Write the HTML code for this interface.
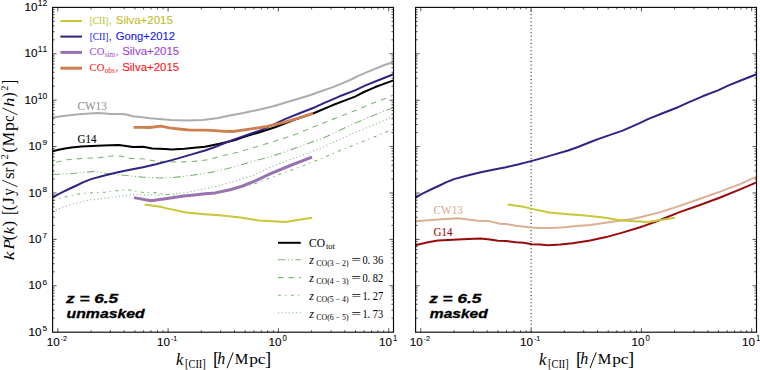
<!DOCTYPE html>
<html><head><meta charset="utf-8"><style>html,body{margin:0;padding:0;background:#fff;}body{width:760px;height:370px;overflow:hidden;}svg{display:block;}text{font-kerning:none;}</style></head><body>
<svg width="760" height="370" viewBox="0 0 760 370">
<rect width="760" height="370" fill="#ffffff"/>
<defs><clipPath id="cl"><rect x="52.6" y="7.4" width="340.9" height="324.8"/></clipPath><clipPath id="cr"><rect x="415.6" y="7.4" width="340.9" height="324.8"/></clipPath></defs>
<g clip-path="url(#cl)">
<polyline points="52.5,211.5 63.2,207.0 76.3,203.0 89.5,200.0 102.6,198.4 115.8,196.8 129.0,195.1 135.5,194.2 142.0,194.7 150.0,195.1 165.0,194.7 184.0,192.9 190.0,191.8 205.8,188.7 221.6,185.0 237.4,180.3 253.2,175.5 270.0,167.5 290.3,159.5 310.5,152.0 324.0,146.6 340.0,139.2 354.9,132.5 369.7,126.6 393.3,116.8" fill="none" stroke="#7ab672" stroke-width="1.1" stroke-dasharray="1 2.6" stroke-linejoin="round"/>
<polyline points="52.5,201.0 67.1,196.4 80.3,193.8 93.4,192.8 105.3,192.1 118.4,190.5 125.0,189.9 130.3,190.1 136.8,191.2 143.4,192.5 155.5,192.6 167.1,194.5 179.7,195.5 193.4,195.0 215.0,193.5 230.0,190.5 242.6,187.0 256.8,183.0 267.9,178.7 283.5,173.0 303.8,165.5 324.0,157.4 343.3,149.3 365.0,140.6 384.6,132.8 393.3,129.2" fill="none" stroke="#7ab672" stroke-width="1.1" stroke-dasharray="3 4.2 1.2 4.4" stroke-linejoin="round"/>
<polyline points="52.5,174.5 69.7,173.8 82.9,172.5 94.7,171.4 105.3,173.2 115.8,174.5 128.9,175.8 142.1,177.1 159.5,178.0 174.6,177.4 190.0,175.5 211.0,172.4 226.8,168.7 240.5,165.0 256.8,160.3 270.0,156.8 290.3,150.0 310.5,142.6 324.0,137.8 340.0,130.2 354.2,123.4 368.4,117.6 385.5,110.5 393.5,107.8" fill="none" stroke="#7ab672" stroke-width="1.1" stroke-dasharray="7.5 2.5 1 2.7 1 2.6" stroke-linejoin="round"/>
<polyline points="52.5,163.0 55.3,162.4 67.1,159.7 82.9,158.4 100.0,157.6 113.2,155.8 121.0,156.1 128.9,158.4 142.2,158.8 155.1,161.0 176.8,162.0 187.6,161.8 198.4,161.0 210.3,159.3 218.9,156.5 237.8,152.3 256.8,146.7 270.0,142.6 283.5,138.5 297.0,133.8 313.2,127.0 342.8,115.4 353.3,111.3 363.7,107.0 373.1,103.0 383.6,99.2 393.5,95.0" fill="none" stroke="#7ab672" stroke-width="1.1" stroke-dasharray="5.5 5" stroke-linejoin="round" stroke-dashoffset="6.7"/>
<polyline points="52.5,117.6 63.2,116.1 76.3,114.5 89.5,113.4 97.4,113.0 105.3,113.6 110.0,114.1 119.6,113.9 125.0,114.3 133.1,116.2 140.0,117.0 150.0,118.2 171.0,119.9 186.8,120.6 202.6,120.1 218.4,118.0 228.2,115.7 240.8,113.4 256.6,110.2 272.4,106.5 288.2,101.8 300.0,98.2 310.5,95.0 321.0,91.3 331.6,87.6 342.1,83.4 350.0,80.0 358.2,75.8 371.3,70.3 384.5,65.0 393.5,62.0" fill="none" stroke="#acacac" stroke-width="2.0" stroke-linejoin="round"/>
<polyline points="144.7,204.5 161.8,207.1 168.0,208.6 186.0,212.6 205.0,214.3 219.5,215.3 240.5,217.5 258.9,220.5 285.3,222.0 311.9,217.8" fill="none" stroke="#c8c737" stroke-width="2.0" stroke-linejoin="round"/>
<polyline points="133.9,197.6 150.8,200.8 167.1,198.5 183.9,196.1 192.0,195.2 205.0,193.8 215.3,192.9 230.0,189.7 242.6,186.0 255.3,180.8 270.0,173.9 290.3,165.5 312.0,157.2" fill="none" stroke="#9a72b0" stroke-width="3.0" stroke-linejoin="round"/>
<polyline points="52.5,151.3 58.5,149.7 65.0,148.4 71.5,147.5 81.2,146.5 92.0,146.0 103.0,145.6 118.5,145.0 124.4,145.7 132.8,147.0 143.2,146.8 152.2,148.4 165.0,149.1 171.5,149.5 184.5,148.8 194.2,147.8 205.0,146.7 219.6,143.8 229.3,141.6 235.0,140.1 245.0,136.5 259.6,132.2 275.0,127.3 295.0,119.6 314.2,113.0 332.3,105.3 344.5,100.6 355.0,96.6 364.0,92.0 374.7,87.3 384.5,83.6 393.5,80.4" fill="none" stroke="#000000" stroke-width="2.0" stroke-linejoin="round"/>
<polyline points="52.5,197.6 57.5,194.7 63.5,191.6 70.0,188.5 76.6,185.5 83.5,182.2 91.0,179.1 104.5,175.5 117.8,172.3 130.0,169.8 143.0,167.2 155.9,164.3 170.0,160.6 178.0,158.4 190.9,154.6 205.0,150.5 215.0,147.0 228.0,141.8 235.0,139.1 245.0,135.6 259.6,130.6 275.0,123.9 285.0,119.1 299.6,113.3 315.0,107.2 325.0,102.6 339.6,96.3 355.0,90.4 365.0,85.6 379.6,79.7 393.5,74.3" fill="none" stroke="#2e2484" stroke-width="2.0" stroke-linejoin="round"/>
<polyline points="133.6,127.3 141.8,127.4 149.7,127.5 160.8,126.1 169.5,127.9 178.9,129.0 190.0,130.1 205.0,130.2 215.0,130.6 225.0,131.3 233.0,131.5 249.5,129.2 267.5,126.4 284.0,122.3 300.6,117.4 313.0,113.3" fill="none" stroke="#cd7f50" stroke-width="2.8" stroke-linejoin="round"/>
</g>
<g clip-path="url(#cr)">
<line x1="531.1" y1="7" x2="531.1" y2="333" stroke="#000" stroke-width="1" stroke-dasharray="1 2.6"/>
<polyline points="415.0,221.3 438.0,219.5 458.0,218.2 478.0,220.7 488.0,220.9 500.0,223.7 506.3,224.0 515.8,225.7 531.6,227.6 540.0,227.9 552.2,228.1 564.3,227.3 576.5,226.1 590.0,224.9 614.3,221.6 630.6,219.2 640.0,217.2 659.5,212.4 678.9,206.1 700.0,198.7 719.5,191.9 738.9,184.6 756.5,176.6" fill="none" stroke="#dcae92" stroke-width="2.0" stroke-linejoin="round"/>
<polyline points="415.0,245.2 428.0,242.3 438.0,240.6 463.0,239.3 480.5,238.5 490.0,239.5 498.0,240.7 506.3,241.1 515.8,242.3 523.7,242.7 531.6,244.2 540.0,244.6 548.1,245.2 560.3,244.5 572.4,243.2 580.6,241.9 590.0,240.4 606.2,237.1 622.4,232.6 640.0,227.3 644.9,225.6 659.5,220.2 678.9,212.4 700.0,205.0 719.5,197.7 738.9,189.9 756.5,182.4" fill="none" stroke="#990b0b" stroke-width="2.0" stroke-linejoin="round"/>
<polyline points="507.7,204.5 524.8,207.1 531.0,208.6 549.0,212.6 568.0,214.3 582.5,215.3 603.5,217.5 621.9,220.5 648.3,222.0 674.9,217.8" fill="none" stroke="#c8c737" stroke-width="2.0" stroke-linejoin="round"/>
<polyline points="415.5,197.6 420.5,194.7 426.5,191.6 433.0,188.5 439.6,185.5 446.5,182.2 454.0,179.1 467.5,175.5 480.8,172.3 493.0,169.8 506.0,167.2 518.9,164.3 533.0,160.6 541.0,158.4 553.9,154.6 568.0,150.5 578.0,147.0 591.0,141.8 598.0,139.1 608.0,135.6 622.6,130.6 638.0,123.9 648.0,119.1 662.6,113.3 678.0,107.2 688.0,102.6 702.6,96.3 718.0,90.4 728.0,85.6 742.6,79.7 756.5,74.3" fill="none" stroke="#2e2484" stroke-width="2.0" stroke-linejoin="round"/>
</g>
<path d="M57.8 332.2v-4.0M57.8 7.4v4.0M91.0 332.2v-2.0M91.0 7.4v2.0M110.4 332.2v-2.0M110.4 7.4v2.0M124.2 332.2v-2.0M124.2 7.4v2.0M134.9 332.2v-2.0M134.9 7.4v2.0M143.6 332.2v-2.0M143.6 7.4v2.0M151.0 332.2v-2.0M151.0 7.4v2.0M157.4 332.2v-2.0M157.4 7.4v2.0M163.1 332.2v-2.0M163.1 7.4v2.0M168.1 332.2v-4.0M168.1 7.4v4.0M201.3 332.2v-2.0M201.3 7.4v2.0M220.7 332.2v-2.0M220.7 7.4v2.0M234.5 332.2v-2.0M234.5 7.4v2.0M245.2 332.2v-2.0M245.2 7.4v2.0M253.9 332.2v-2.0M253.9 7.4v2.0M261.3 332.2v-2.0M261.3 7.4v2.0M267.7 332.2v-2.0M267.7 7.4v2.0M273.4 332.2v-2.0M273.4 7.4v2.0M278.4 332.2v-4.0M278.4 7.4v4.0M311.6 332.2v-2.0M311.6 7.4v2.0M331.0 332.2v-2.0M331.0 7.4v2.0M344.8 332.2v-2.0M344.8 7.4v2.0M355.5 332.2v-2.0M355.5 7.4v2.0M364.2 332.2v-2.0M364.2 7.4v2.0M371.6 332.2v-2.0M371.6 7.4v2.0M378.0 332.2v-2.0M378.0 7.4v2.0M383.7 332.2v-2.0M383.7 7.4v2.0M388.7 332.2v-4.0M388.7 7.4v4.0M52.6 318.2h2.0M393.5 318.2h-2.0M52.6 310.1h2.0M393.5 310.1h-2.0M52.6 304.3h2.0M393.5 304.3h-2.0M52.6 299.8h2.0M393.5 299.8h-2.0M52.6 296.1h2.0M393.5 296.1h-2.0M52.6 293.0h2.0M393.5 293.0h-2.0M52.6 290.3h2.0M393.5 290.3h-2.0M52.6 287.9h2.0M393.5 287.9h-2.0M52.6 285.8h4.0M393.5 285.8h-4.0M52.6 271.8h2.0M393.5 271.8h-2.0M52.6 263.7h2.0M393.5 263.7h-2.0M52.6 257.9h2.0M393.5 257.9h-2.0M52.6 253.4h2.0M393.5 253.4h-2.0M52.6 249.7h2.0M393.5 249.7h-2.0M52.6 246.6h2.0M393.5 246.6h-2.0M52.6 243.9h2.0M393.5 243.9h-2.0M52.6 241.5h2.0M393.5 241.5h-2.0M52.6 239.4h4.0M393.5 239.4h-4.0M52.6 225.4h2.0M393.5 225.4h-2.0M52.6 217.3h2.0M393.5 217.3h-2.0M52.6 211.5h2.0M393.5 211.5h-2.0M52.6 207.0h2.0M393.5 207.0h-2.0M52.6 203.3h2.0M393.5 203.3h-2.0M52.6 200.2h2.0M393.5 200.2h-2.0M52.6 197.5h2.0M393.5 197.5h-2.0M52.6 195.1h2.0M393.5 195.1h-2.0M52.6 193.0h4.0M393.5 193.0h-4.0M52.6 179.0h2.0M393.5 179.0h-2.0M52.6 170.9h2.0M393.5 170.9h-2.0M52.6 165.1h2.0M393.5 165.1h-2.0M52.6 160.6h2.0M393.5 160.6h-2.0M52.6 156.9h2.0M393.5 156.9h-2.0M52.6 153.8h2.0M393.5 153.8h-2.0M52.6 151.1h2.0M393.5 151.1h-2.0M52.6 148.7h2.0M393.5 148.7h-2.0M52.6 146.6h4.0M393.5 146.6h-4.0M52.6 132.6h2.0M393.5 132.6h-2.0M52.6 124.5h2.0M393.5 124.5h-2.0M52.6 118.7h2.0M393.5 118.7h-2.0M52.6 114.2h2.0M393.5 114.2h-2.0M52.6 110.5h2.0M393.5 110.5h-2.0M52.6 107.4h2.0M393.5 107.4h-2.0M52.6 104.7h2.0M393.5 104.7h-2.0M52.6 102.3h2.0M393.5 102.3h-2.0M52.6 100.2h4.0M393.5 100.2h-4.0M52.6 86.2h2.0M393.5 86.2h-2.0M52.6 78.1h2.0M393.5 78.1h-2.0M52.6 72.3h2.0M393.5 72.3h-2.0M52.6 67.8h2.0M393.5 67.8h-2.0M52.6 64.1h2.0M393.5 64.1h-2.0M52.6 61.0h2.0M393.5 61.0h-2.0M52.6 58.3h2.0M393.5 58.3h-2.0M52.6 55.9h2.0M393.5 55.9h-2.0M52.6 53.8h4.0M393.5 53.8h-4.0M52.6 39.8h2.0M393.5 39.8h-2.0M52.6 31.7h2.0M393.5 31.7h-2.0M52.6 25.9h2.0M393.5 25.9h-2.0M52.6 21.4h2.0M393.5 21.4h-2.0M52.6 17.7h2.0M393.5 17.7h-2.0M52.6 14.6h2.0M393.5 14.6h-2.0M52.6 11.9h2.0M393.5 11.9h-2.0M52.6 9.5h2.0M393.5 9.5h-2.0" stroke="#1a1a1a" stroke-width="0.75" fill="none"/>
<path d="M420.8 332.2v-4.0M420.8 7.4v4.0M454.0 332.2v-2.0M454.0 7.4v2.0M473.4 332.2v-2.0M473.4 7.4v2.0M487.2 332.2v-2.0M487.2 7.4v2.0M497.9 332.2v-2.0M497.9 7.4v2.0M506.6 332.2v-2.0M506.6 7.4v2.0M514.0 332.2v-2.0M514.0 7.4v2.0M520.4 332.2v-2.0M520.4 7.4v2.0M526.1 332.2v-2.0M526.1 7.4v2.0M531.1 332.2v-4.0M531.1 7.4v4.0M564.3 332.2v-2.0M564.3 7.4v2.0M583.7 332.2v-2.0M583.7 7.4v2.0M597.5 332.2v-2.0M597.5 7.4v2.0M608.2 332.2v-2.0M608.2 7.4v2.0M616.9 332.2v-2.0M616.9 7.4v2.0M624.3 332.2v-2.0M624.3 7.4v2.0M630.7 332.2v-2.0M630.7 7.4v2.0M636.4 332.2v-2.0M636.4 7.4v2.0M641.4 332.2v-4.0M641.4 7.4v4.0M674.6 332.2v-2.0M674.6 7.4v2.0M694.0 332.2v-2.0M694.0 7.4v2.0M707.8 332.2v-2.0M707.8 7.4v2.0M718.5 332.2v-2.0M718.5 7.4v2.0M727.2 332.2v-2.0M727.2 7.4v2.0M734.6 332.2v-2.0M734.6 7.4v2.0M741.0 332.2v-2.0M741.0 7.4v2.0M746.7 332.2v-2.0M746.7 7.4v2.0M751.7 332.2v-4.0M751.7 7.4v4.0M415.6 318.2h2.0M756.5 318.2h-2.0M415.6 310.1h2.0M756.5 310.1h-2.0M415.6 304.3h2.0M756.5 304.3h-2.0M415.6 299.8h2.0M756.5 299.8h-2.0M415.6 296.1h2.0M756.5 296.1h-2.0M415.6 293.0h2.0M756.5 293.0h-2.0M415.6 290.3h2.0M756.5 290.3h-2.0M415.6 287.9h2.0M756.5 287.9h-2.0M415.6 285.8h4.0M756.5 285.8h-4.0M415.6 271.8h2.0M756.5 271.8h-2.0M415.6 263.7h2.0M756.5 263.7h-2.0M415.6 257.9h2.0M756.5 257.9h-2.0M415.6 253.4h2.0M756.5 253.4h-2.0M415.6 249.7h2.0M756.5 249.7h-2.0M415.6 246.6h2.0M756.5 246.6h-2.0M415.6 243.9h2.0M756.5 243.9h-2.0M415.6 241.5h2.0M756.5 241.5h-2.0M415.6 239.4h4.0M756.5 239.4h-4.0M415.6 225.4h2.0M756.5 225.4h-2.0M415.6 217.3h2.0M756.5 217.3h-2.0M415.6 211.5h2.0M756.5 211.5h-2.0M415.6 207.0h2.0M756.5 207.0h-2.0M415.6 203.3h2.0M756.5 203.3h-2.0M415.6 200.2h2.0M756.5 200.2h-2.0M415.6 197.5h2.0M756.5 197.5h-2.0M415.6 195.1h2.0M756.5 195.1h-2.0M415.6 193.0h4.0M756.5 193.0h-4.0M415.6 179.0h2.0M756.5 179.0h-2.0M415.6 170.9h2.0M756.5 170.9h-2.0M415.6 165.1h2.0M756.5 165.1h-2.0M415.6 160.6h2.0M756.5 160.6h-2.0M415.6 156.9h2.0M756.5 156.9h-2.0M415.6 153.8h2.0M756.5 153.8h-2.0M415.6 151.1h2.0M756.5 151.1h-2.0M415.6 148.7h2.0M756.5 148.7h-2.0M415.6 146.6h4.0M756.5 146.6h-4.0M415.6 132.6h2.0M756.5 132.6h-2.0M415.6 124.5h2.0M756.5 124.5h-2.0M415.6 118.7h2.0M756.5 118.7h-2.0M415.6 114.2h2.0M756.5 114.2h-2.0M415.6 110.5h2.0M756.5 110.5h-2.0M415.6 107.4h2.0M756.5 107.4h-2.0M415.6 104.7h2.0M756.5 104.7h-2.0M415.6 102.3h2.0M756.5 102.3h-2.0M415.6 100.2h4.0M756.5 100.2h-4.0M415.6 86.2h2.0M756.5 86.2h-2.0M415.6 78.1h2.0M756.5 78.1h-2.0M415.6 72.3h2.0M756.5 72.3h-2.0M415.6 67.8h2.0M756.5 67.8h-2.0M415.6 64.1h2.0M756.5 64.1h-2.0M415.6 61.0h2.0M756.5 61.0h-2.0M415.6 58.3h2.0M756.5 58.3h-2.0M415.6 55.9h2.0M756.5 55.9h-2.0M415.6 53.8h4.0M756.5 53.8h-4.0M415.6 39.8h2.0M756.5 39.8h-2.0M415.6 31.7h2.0M756.5 31.7h-2.0M415.6 25.9h2.0M756.5 25.9h-2.0M415.6 21.4h2.0M756.5 21.4h-2.0M415.6 17.7h2.0M756.5 17.7h-2.0M415.6 14.6h2.0M756.5 14.6h-2.0M415.6 11.9h2.0M756.5 11.9h-2.0M415.6 9.5h2.0M756.5 9.5h-2.0" stroke="#1a1a1a" stroke-width="0.75" fill="none"/>
<rect x="52.6" y="7.4" width="340.9" height="324.8" fill="none" stroke="#0a0a0a" stroke-width="1.15"/>
<rect x="415.6" y="7.4" width="340.9" height="324.8" fill="none" stroke="#0a0a0a" stroke-width="1.15"/>
<text x="28.5" y="335.8" font-family='"Liberation Sans", sans-serif' font-size="11.2" fill="#000" stroke="#000" stroke-width="0.1" textLength="13.0" lengthAdjust="spacingAndGlyphs">10</text>
<text x="42.5" y="330.9" font-family='"Liberation Sans", sans-serif' font-size="8.0" fill="#000" stroke="#000" stroke-width="0.08" textLength="4.6" lengthAdjust="spacingAndGlyphs">5</text>
<text x="28.5" y="289.4" font-family='"Liberation Sans", sans-serif' font-size="11.2" fill="#000" stroke="#000" stroke-width="0.1" textLength="13.0" lengthAdjust="spacingAndGlyphs">10</text>
<text x="42.5" y="284.5" font-family='"Liberation Sans", sans-serif' font-size="8.0" fill="#000" stroke="#000" stroke-width="0.08" textLength="4.6" lengthAdjust="spacingAndGlyphs">6</text>
<text x="28.5" y="243.0" font-family='"Liberation Sans", sans-serif' font-size="11.2" fill="#000" stroke="#000" stroke-width="0.1" textLength="13.0" lengthAdjust="spacingAndGlyphs">10</text>
<text x="42.5" y="238.1" font-family='"Liberation Sans", sans-serif' font-size="8.0" fill="#000" stroke="#000" stroke-width="0.08" textLength="4.6" lengthAdjust="spacingAndGlyphs">7</text>
<text x="28.5" y="196.6" font-family='"Liberation Sans", sans-serif' font-size="11.2" fill="#000" stroke="#000" stroke-width="0.1" textLength="13.0" lengthAdjust="spacingAndGlyphs">10</text>
<text x="42.5" y="191.7" font-family='"Liberation Sans", sans-serif' font-size="8.0" fill="#000" stroke="#000" stroke-width="0.08" textLength="4.6" lengthAdjust="spacingAndGlyphs">8</text>
<text x="28.5" y="150.2" font-family='"Liberation Sans", sans-serif' font-size="11.2" fill="#000" stroke="#000" stroke-width="0.1" textLength="13.0" lengthAdjust="spacingAndGlyphs">10</text>
<text x="42.5" y="145.3" font-family='"Liberation Sans", sans-serif' font-size="8.0" fill="#000" stroke="#000" stroke-width="0.08" textLength="4.6" lengthAdjust="spacingAndGlyphs">9</text>
<text x="24.4" y="103.8" font-family='"Liberation Sans", sans-serif' font-size="11.2" fill="#000" stroke="#000" stroke-width="0.1" textLength="13.0" lengthAdjust="spacingAndGlyphs">10</text>
<text x="37.8" y="98.6" font-family='"Liberation Sans", sans-serif' font-size="8.2" fill="#000" stroke="#000" stroke-width="0.08" textLength="9.4" lengthAdjust="spacingAndGlyphs">10</text>
<text x="24.4" y="57.4" font-family='"Liberation Sans", sans-serif' font-size="11.2" fill="#000" stroke="#000" stroke-width="0.1" textLength="13.0" lengthAdjust="spacingAndGlyphs">10</text>
<text x="37.8" y="52.2" font-family='"Liberation Sans", sans-serif' font-size="8.2" fill="#000" stroke="#000" stroke-width="0.08" textLength="9.4" lengthAdjust="spacingAndGlyphs">11</text>
<text x="24.4" y="11.0" font-family='"Liberation Sans", sans-serif' font-size="11.2" fill="#000" stroke="#000" stroke-width="0.1" textLength="13.0" lengthAdjust="spacingAndGlyphs">10</text>
<text x="37.8" y="5.8" font-family='"Liberation Sans", sans-serif' font-size="8.2" fill="#000" stroke="#000" stroke-width="0.08" textLength="9.4" lengthAdjust="spacingAndGlyphs">12</text>
<text x="46.8" y="346.0" font-family='"Liberation Sans", sans-serif' font-size="11.2" fill="#000" stroke="#000" stroke-width="0.1" textLength="13.0" lengthAdjust="spacingAndGlyphs">10</text>
<text x="60.6" y="340.5" font-family='"Liberation Sans", sans-serif' font-size="8.0" fill="#000" stroke="#000" stroke-width="0.08" textLength="6.4" lengthAdjust="spacingAndGlyphs">-2</text>
<text x="157.1" y="346.0" font-family='"Liberation Sans", sans-serif' font-size="11.2" fill="#000" stroke="#000" stroke-width="0.1" textLength="13.0" lengthAdjust="spacingAndGlyphs">10</text>
<text x="170.9" y="340.5" font-family='"Liberation Sans", sans-serif' font-size="8.0" fill="#000" stroke="#000" stroke-width="0.08" textLength="6.4" lengthAdjust="spacingAndGlyphs">-1</text>
<text x="268.6" y="346.0" font-family='"Liberation Sans", sans-serif' font-size="11.2" fill="#000" stroke="#000" stroke-width="0.1" textLength="13.0" lengthAdjust="spacingAndGlyphs">10</text>
<text x="282.6" y="340.5" font-family='"Liberation Sans", sans-serif' font-size="8.2" fill="#000" stroke="#000" stroke-width="0.08" textLength="4.3" lengthAdjust="spacingAndGlyphs">0</text>
<text x="378.9" y="346.0" font-family='"Liberation Sans", sans-serif' font-size="11.2" fill="#000" stroke="#000" stroke-width="0.1" textLength="13.0" lengthAdjust="spacingAndGlyphs">10</text>
<text x="392.9" y="340.5" font-family='"Liberation Sans", sans-serif' font-size="8.2" fill="#000" stroke="#000" stroke-width="0.08" textLength="4.3" lengthAdjust="spacingAndGlyphs">1</text>
<text x="409.8" y="346.0" font-family='"Liberation Sans", sans-serif' font-size="11.2" fill="#000" stroke="#000" stroke-width="0.1" textLength="13.0" lengthAdjust="spacingAndGlyphs">10</text>
<text x="423.6" y="340.5" font-family='"Liberation Sans", sans-serif' font-size="8.0" fill="#000" stroke="#000" stroke-width="0.08" textLength="6.4" lengthAdjust="spacingAndGlyphs">-2</text>
<text x="520.1" y="346.0" font-family='"Liberation Sans", sans-serif' font-size="11.2" fill="#000" stroke="#000" stroke-width="0.1" textLength="13.0" lengthAdjust="spacingAndGlyphs">10</text>
<text x="533.9" y="340.5" font-family='"Liberation Sans", sans-serif' font-size="8.0" fill="#000" stroke="#000" stroke-width="0.08" textLength="6.4" lengthAdjust="spacingAndGlyphs">-1</text>
<text x="631.6" y="346.0" font-family='"Liberation Sans", sans-serif' font-size="11.2" fill="#000" stroke="#000" stroke-width="0.1" textLength="13.0" lengthAdjust="spacingAndGlyphs">10</text>
<text x="645.6" y="340.5" font-family='"Liberation Sans", sans-serif' font-size="8.2" fill="#000" stroke="#000" stroke-width="0.08" textLength="4.3" lengthAdjust="spacingAndGlyphs">0</text>
<text x="741.9" y="346.0" font-family='"Liberation Sans", sans-serif' font-size="11.2" fill="#000" stroke="#000" stroke-width="0.1" textLength="13.0" lengthAdjust="spacingAndGlyphs">10</text>
<text x="755.9" y="340.5" font-family='"Liberation Sans", sans-serif' font-size="8.2" fill="#000" stroke="#000" stroke-width="0.08" textLength="4.3" lengthAdjust="spacingAndGlyphs">1</text>
<text x="176.0" y="364.7" font-family='"Liberation Serif", serif' font-size="16.5" font-style="italic" fill="#000">k</text>
<text x="185.0" y="367.7" font-family='"Liberation Serif", serif' font-size="12.8" fill="#000" textLength="20.8" lengthAdjust="spacingAndGlyphs">[CII]</text>
<text x="212.9" y="364.8" font-family='"Liberation Serif", serif' font-size="18.5" fill="#000">[</text>
<text x="217.3" y="364.4" font-family='"Liberation Serif", serif' font-size="16" font-style="italic" fill="#000">h</text>
<line x1="227.0" y1="368.2" x2="233.2" y2="352.3" stroke="#000" stroke-width="0.95"/>
<text x="234.8" y="364.4" font-family='"Liberation Serif", serif' font-size="15.6" fill="#000" textLength="13.6" lengthAdjust="spacingAndGlyphs">M</text>
<text x="249.2" y="364.4" font-family='"Liberation Serif", serif' font-size="15.6" fill="#000" textLength="16.4" lengthAdjust="spacingAndGlyphs">pc</text>
<text x="265.0" y="364.8" font-family='"Liberation Serif", serif' font-size="18.5" fill="#000">]</text>
<text x="539.0" y="364.7" font-family='"Liberation Serif", serif' font-size="16.5" font-style="italic" fill="#000">k</text>
<text x="548.0" y="367.7" font-family='"Liberation Serif", serif' font-size="12.8" fill="#000" textLength="20.8" lengthAdjust="spacingAndGlyphs">[CII]</text>
<text x="575.9" y="364.8" font-family='"Liberation Serif", serif' font-size="18.5" fill="#000">[</text>
<text x="580.3" y="364.4" font-family='"Liberation Serif", serif' font-size="16" font-style="italic" fill="#000">h</text>
<line x1="590.0" y1="368.2" x2="596.2" y2="352.3" stroke="#000" stroke-width="0.95"/>
<text x="597.8" y="364.4" font-family='"Liberation Serif", serif' font-size="15.6" fill="#000" textLength="13.6" lengthAdjust="spacingAndGlyphs">M</text>
<text x="612.2" y="364.4" font-family='"Liberation Serif", serif' font-size="15.6" fill="#000" textLength="16.4" lengthAdjust="spacingAndGlyphs">pc</text>
<text x="628.0" y="364.8" font-family='"Liberation Serif", serif' font-size="18.5" fill="#000">]</text>
<g transform="translate(13.9,260.0) rotate(-90)">
<text x="-0.27" y="0.00" font-family='"Liberation Serif", serif' font-size="15.5" font-style="italic" fill="#000" textLength="8.80" lengthAdjust="spacingAndGlyphs">k</text>
<text x="10.49" y="0.00" font-family='"Liberation Serif", serif' font-size="15.5" font-style="italic" fill="#000" textLength="10.46" lengthAdjust="spacingAndGlyphs">P</text>
<text x="19.82" y="0.00" font-family='"Liberation Serif", serif' font-size="16.8" fill="#000" textLength="5.18" lengthAdjust="spacingAndGlyphs">(</text>
<text x="25.51" y="0.00" font-family='"Liberation Serif", serif' font-size="15.5" font-style="italic" fill="#000" textLength="7.45" lengthAdjust="spacingAndGlyphs">k</text>
<text x="33.46" y="0.00" font-family='"Liberation Serif", serif' font-size="16.8" fill="#000" textLength="5.57" lengthAdjust="spacingAndGlyphs">)</text>
<text x="45.37" y="1.10" font-family='"Liberation Serif", serif' font-size="18.4" fill="#000" textLength="4.18" lengthAdjust="spacingAndGlyphs">[</text>
<text x="49.80" y="0.00" font-family='"Liberation Serif", serif' font-size="16.8" fill="#000" textLength="5.31" lengthAdjust="spacingAndGlyphs">(</text>
<text x="56.02" y="0.00" font-family='"Liberation Serif", serif' font-size="15.8" fill="#000" textLength="7.06" lengthAdjust="spacingAndGlyphs">J</text>
<text x="64.32" y="0.00" font-family='"Liberation Serif", serif' font-size="15.8" fill="#000" textLength="7.54" lengthAdjust="spacingAndGlyphs">y</text>
<text x="81.10" y="0.00" font-family='"Liberation Serif", serif' font-size="15.8" fill="#000" textLength="6.61" lengthAdjust="spacingAndGlyphs">s</text>
<text x="87.60" y="0.00" font-family='"Liberation Serif", serif' font-size="15.8" fill="#000" textLength="4.93" lengthAdjust="spacingAndGlyphs">r</text>
<text x="93.49" y="0.00" font-family='"Liberation Serif", serif' font-size="16.8" fill="#000" textLength="5.31" lengthAdjust="spacingAndGlyphs">)</text>
<text x="100.64" y="-6.30" font-family='"Liberation Serif", serif' font-size="9.6" fill="#000" textLength="5.24" lengthAdjust="spacingAndGlyphs">2</text>
<text x="107.50" y="0.00" font-family='"Liberation Serif", serif' font-size="16.8" fill="#000" textLength="5.31" lengthAdjust="spacingAndGlyphs">(</text>
<text x="113.73" y="0.00" font-family='"Liberation Serif", serif' font-size="15.8" fill="#000" textLength="14.34" lengthAdjust="spacingAndGlyphs">M</text>
<text x="128.91" y="0.00" font-family='"Liberation Serif", serif' font-size="15.8" fill="#000" textLength="8.99" lengthAdjust="spacingAndGlyphs">p</text>
<text x="138.16" y="0.00" font-family='"Liberation Serif", serif' font-size="15.8" fill="#000" textLength="6.28" lengthAdjust="spacingAndGlyphs">c</text>
<text x="152.92" y="0.00" font-family='"Liberation Serif", serif' font-size="15.5" font-style="italic" fill="#000" textLength="9.48" lengthAdjust="spacingAndGlyphs">h</text>
<text x="162.64" y="0.00" font-family='"Liberation Serif", serif' font-size="16.8" fill="#000" textLength="4.79" lengthAdjust="spacingAndGlyphs">)</text>
<text x="169.35" y="-6.30" font-family='"Liberation Serif", serif' font-size="9.6" fill="#000" textLength="5.11" lengthAdjust="spacingAndGlyphs">2</text>
<text x="175.65" y="1.10" font-family='"Liberation Serif", serif' font-size="18.4" fill="#000" textLength="4.18" lengthAdjust="spacingAndGlyphs">]</text>
<line x1="73.30" y1="3.6" x2="79.80" y2="-11.6" stroke="#000" stroke-width="0.85"/>
<line x1="145.20" y1="3.6" x2="152.10" y2="-11.6" stroke="#000" stroke-width="0.85"/>
</g>
<text x="77.4" y="110.3" font-family='"Liberation Serif", serif' font-size="11.6" fill="#8c8c8c" textLength="29.4" lengthAdjust="spacingAndGlyphs">CW13</text>
<text x="77.6" y="142.8" font-family='"Liberation Serif", serif' font-size="12.2" fill="#000" stroke="#000" stroke-width="0.1" textLength="18.9" lengthAdjust="spacingAndGlyphs">G14</text>
<text x="433.5" y="214.2" font-family='"Liberation Serif", serif' font-size="11.6" fill="#d9a98d" textLength="29.4" lengthAdjust="spacingAndGlyphs">CW13</text>
<text x="433.5" y="235.9" font-family='"Liberation Serif", serif' font-size="12.2" fill="#990b0b" stroke="#990b0b" stroke-width="0.1" textLength="18.9" lengthAdjust="spacingAndGlyphs">G14</text>
<line x1="60.4" y1="21.0" x2="82.0" y2="21.0" stroke="#c8c737" stroke-width="2.0"/>
<text x="89.7" y="24.0" font-family='"Liberation Serif", serif' font-size="11.2" fill="#bcbc1e"  textLength="18.8" lengthAdjust="spacingAndGlyphs">[CII]</text>
<text x="108.8" y="24.0" font-family='"Liberation Sans", sans-serif' font-size="10" fill="#bcbc1e" stroke="#bcbc1e" stroke-width="0.08">,</text>
<text x="115.8" y="24.0" font-family='"Liberation Sans", sans-serif' font-size="10.1" fill="#bcbc1e" stroke="#bcbc1e" stroke-width="0.08" textLength="57.0" lengthAdjust="spacingAndGlyphs">Silva+2015</text>
<line x1="60.4" y1="36.6" x2="82.0" y2="36.6" stroke="#2e2484" stroke-width="2.0"/>
<text x="89.7" y="39.6" font-family='"Liberation Serif", serif' font-size="11.2" fill="#1515f0"  textLength="18.8" lengthAdjust="spacingAndGlyphs">[CII]</text>
<text x="108.8" y="39.6" font-family='"Liberation Sans", sans-serif' font-size="10" fill="#1515f0" stroke="#1515f0" stroke-width="0.08">,</text>
<text x="115.8" y="39.6" font-family='"Liberation Sans", sans-serif' font-size="10.1" fill="#1515f0" stroke="#1515f0" stroke-width="0.08" textLength="59.2" lengthAdjust="spacingAndGlyphs">Gong+2012</text>
<line x1="60.4" y1="52.4" x2="82.0" y2="52.4" stroke="#9a72b0" stroke-width="3.0"/>
<text x="89.6" y="55.4" font-family='"Liberation Serif", serif' font-size="11.2" fill="#9b3fd0"  textLength="14.8" lengthAdjust="spacingAndGlyphs">CO</text>
<text x="104.7" y="57.2" font-family='"Liberation Serif", serif' font-size="7.8" fill="#9b3fd0" textLength="10.2" lengthAdjust="spacingAndGlyphs">sim</text>
<text x="115.6" y="55.4" font-family='"Liberation Sans", sans-serif' font-size="10" fill="#9b3fd0" stroke="#9b3fd0" stroke-width="0.08">,</text>
<text x="122.2" y="55.4" font-family='"Liberation Sans", sans-serif' font-size="10.1" fill="#9b3fd0" stroke="#9b3fd0" stroke-width="0.08" textLength="57.0" lengthAdjust="spacingAndGlyphs">Silva+2015</text>
<line x1="60.4" y1="68.2" x2="82.0" y2="68.2" stroke="#cc7d4f" stroke-width="3.0"/>
<text x="89.6" y="71.2" font-family='"Liberation Serif", serif' font-size="11.2" fill="#ff1010"  textLength="14.8" lengthAdjust="spacingAndGlyphs">CO</text>
<text x="104.7" y="73.0" font-family='"Liberation Serif", serif' font-size="7.8" fill="#ff1010" textLength="10.2" lengthAdjust="spacingAndGlyphs">obs</text>
<text x="115.6" y="71.2" font-family='"Liberation Sans", sans-serif' font-size="10" fill="#ff1010" stroke="#ff1010" stroke-width="0.08">,</text>
<text x="122.2" y="71.2" font-family='"Liberation Sans", sans-serif' font-size="10.1" fill="#ff1010" stroke="#ff1010" stroke-width="0.08" textLength="57.0" lengthAdjust="spacingAndGlyphs">Silva+2015</text>
<line x1="278.0" y1="242.8" x2="300.8" y2="242.8" stroke="#000" stroke-width="2.0"/>
<line x1="278.0" y1="259.8" x2="300.8" y2="259.8" stroke="#7ab672" stroke-width="1.1" stroke-dasharray="7.5 2.5 1 2.7 1 2.6"/>
<line x1="278.0" y1="277.6" x2="300.8" y2="277.6" stroke="#7ab672" stroke-width="1.1" stroke-dasharray="5.5 5"/>
<line x1="278.0" y1="295.2" x2="300.8" y2="295.2" stroke="#7ab672" stroke-width="1.1" stroke-dasharray="3 4.2 1.2 4.4"/>
<line x1="278.0" y1="312.8" x2="300.8" y2="312.8" stroke="#7ab672" stroke-width="1.1" stroke-dasharray="1 2.6"/>
<text x="309.0" y="247.4" font-family='"Liberation Serif", serif' font-size="11.6" fill="#000" textLength="16" lengthAdjust="spacingAndGlyphs">CO</text>
<text x="325.9" y="248.8" font-family='"Liberation Serif", serif' font-size="8" fill="#000" textLength="9.1" lengthAdjust="spacingAndGlyphs">tot</text>
<text x="309.2" y="264.4" font-family='"Liberation Serif", serif' font-size="12" font-style="italic" fill="#000">z</text>
<text x="316.3" y="266.4" font-family='"Liberation Serif", serif' font-size="8.6" fill="#000" textLength="32.3" lengthAdjust="spacingAndGlyphs">CO(3 − 2)</text>
<text x="351.6" y="264.4" font-family='"Liberation Serif", serif' font-size="12" fill="#000" textLength="9.6" lengthAdjust="spacingAndGlyphs">=</text>
<text x="362.4" y="264.4" font-family='"Liberation Serif", serif' font-size="11.6" fill="#000" textLength="20.8" lengthAdjust="spacingAndGlyphs">0. 36</text>
<text x="309.2" y="282.2" font-family='"Liberation Serif", serif' font-size="12" font-style="italic" fill="#000">z</text>
<text x="316.3" y="284.2" font-family='"Liberation Serif", serif' font-size="8.6" fill="#000" textLength="32.3" lengthAdjust="spacingAndGlyphs">CO(4 − 3)</text>
<text x="351.6" y="282.2" font-family='"Liberation Serif", serif' font-size="12" fill="#000" textLength="9.6" lengthAdjust="spacingAndGlyphs">=</text>
<text x="362.4" y="282.2" font-family='"Liberation Serif", serif' font-size="11.6" fill="#000" textLength="20.8" lengthAdjust="spacingAndGlyphs">0. 82</text>
<text x="309.2" y="299.9" font-family='"Liberation Serif", serif' font-size="12" font-style="italic" fill="#000">z</text>
<text x="316.3" y="301.9" font-family='"Liberation Serif", serif' font-size="8.6" fill="#000" textLength="32.3" lengthAdjust="spacingAndGlyphs">CO(5 − 4)</text>
<text x="351.6" y="299.9" font-family='"Liberation Serif", serif' font-size="12" fill="#000" textLength="9.6" lengthAdjust="spacingAndGlyphs">=</text>
<text x="362.4" y="299.9" font-family='"Liberation Serif", serif' font-size="11.6" fill="#000" textLength="20.8" lengthAdjust="spacingAndGlyphs">1. 27</text>
<text x="309.2" y="317.5" font-family='"Liberation Serif", serif' font-size="12" font-style="italic" fill="#000">z</text>
<text x="316.3" y="319.5" font-family='"Liberation Serif", serif' font-size="8.6" fill="#000" textLength="32.3" lengthAdjust="spacingAndGlyphs">CO(6 − 5)</text>
<text x="351.6" y="317.5" font-family='"Liberation Serif", serif' font-size="12" fill="#000" textLength="9.6" lengthAdjust="spacingAndGlyphs">=</text>
<text x="362.4" y="317.5" font-family='"Liberation Serif", serif' font-size="11.6" fill="#000" textLength="20.8" lengthAdjust="spacingAndGlyphs">1. 73</text>
<text x="66.0" y="302.9" font-family='"Liberation Sans", sans-serif' font-size="12.2" font-weight="bold" font-style="italic" fill="#000" stroke="#000" stroke-width="0.3" textLength="52.2" lengthAdjust="spacingAndGlyphs">z = 6.5</text>
<text x="66.6" y="318.4" font-family='"Liberation Sans", sans-serif' font-size="12.3" font-weight="bold" font-style="italic" fill="#000" stroke="#000" stroke-width="0.3" textLength="78.0" lengthAdjust="spacingAndGlyphs">unmasked</text>
<text x="429.2" y="302.9" font-family='"Liberation Sans", sans-serif' font-size="12.2" font-weight="bold" font-style="italic" fill="#000" stroke="#000" stroke-width="0.3" textLength="52.2" lengthAdjust="spacingAndGlyphs">z = 6.5</text>
<text x="429.8" y="318.4" font-family='"Liberation Sans", sans-serif' font-size="12.3" font-weight="bold" font-style="italic" fill="#000" stroke="#000" stroke-width="0.3" textLength="58.0" lengthAdjust="spacingAndGlyphs">masked</text>
</svg>
</body></html>
